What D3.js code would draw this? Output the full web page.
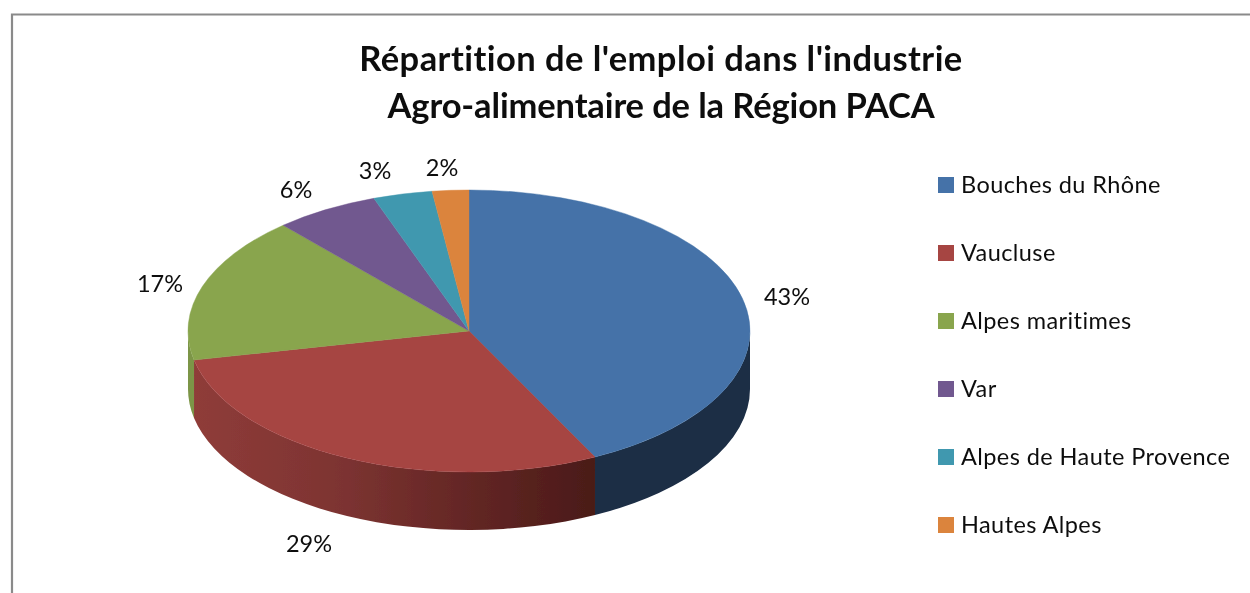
<!DOCTYPE html>
<html><head><meta charset="utf-8">
<script src="https://cdn.jsdelivr.net/npm/d3@7"></script>
<style>html,body{margin:0;padding:0;background:#fff;overflow:hidden}svg{display:block}text{font-family:Lato,"Open Sans",sans-serif;fill:#111;font-variant-ligatures:none}</style>
</head><body><svg id="c" width="1250" height="593"></svg>
<script>
const titleLines = ["Répartition de l'emploi dans l'industrie", "Agro-alimentaire de la Région PACA"];
const categories = ["Bouches du Rhône","Vaucluse","Alpes maritimes","Var","Alpes de Haute Provence","Hautes Alpes"];
const values = [42.6,29.1,16.8,6.0,3.4,2.1];
const percentLabels = ["43%","29%","17%","6%","3%","2%"];
const topColors = ["#4472a8","#a64442","#89a54e","#71588f","#4198af","#db843d"];

const labelAnchors = [[787,297],[309,544],[160,284],[296,190],[375,171],[442,168]];
const titleSpacing = [0.45,-0.13];
const cx=469, cy=331, rx=281, ry=141, depth=58;
const svg=d3.select("#c");
const defs=svg.append("defs");
defs.append("filter").attr("id","soft").append("feGaussianBlur").attr("stdDeviation",0.45);
defs.append("filter").attr("id","softText").append("feGaussianBlur").attr("stdDeviation",0.3);

// frame
svg.append("path").attr("d","M12,593V14.5H1250").attr("fill","none").attr("stroke","#8a8a8a").attr("stroke-width",2.2);

const rootG=svg.append("g").attr("filter","url(#soft)");
const pie=d3.pie().sort(null).value(d=>d).startAngle(0).endAngle(2*Math.PI);
const arcs=pie(values);
const px=a=>cx+rx*Math.sin(a), py=a=>cy-ry*Math.cos(a);

// side wall gradient
const gr=defs.append("linearGradient").attr("id","redWall").attr("gradientUnits","userSpaceOnUse")
  .attr("x1",cx-rx+5).attr("x2",px(arcs[0].endAngle)).attr("y1",0).attr("y2",0);
gr.append("stop").attr("offset",0).attr("stop-color","#8f3c39");
gr.append("stop").attr("offset",0.35).attr("stop-color","#7e3432");
gr.append("stop").attr("offset",1).attr("stop-color","#4a1a18");

const wallFill=["#1b2d45","url(#redWall)","#7c9546"];
arcs.forEach((d,i)=>{
  const a0=Math.max(d.startAngle,Math.PI/2), a1=Math.min(d.endAngle,3*Math.PI/2);
  if(a1<=a0) return;
  const p=`M${px(a0)},${py(a0)}A${rx},${ry} 0 0 1 ${px(a1)},${py(a1)}`+
    `L${px(a1)},${py(a1)+depth}A${rx},${ry} 0 0 0 ${px(a0)},${py(a0)+depth}Z`;
  rootG.append("path").attr("d",p).attr("fill",wallFill[i]||topColors[i]);
});

// top face
const arc=d3.arc().innerRadius(0).outerRadius(rx);
rootG.append("g").attr("transform",`translate(${cx},${cy}) scale(1,${ry/rx})`)
  .selectAll("path").data(arcs).join("path").attr("d",arc).attr("fill",(d,i)=>topColors[i])
  .attr("stroke",(d,i)=>topColors[i]).attr("stroke-width",0.6);

const textG=svg.append("g").attr("filter","url(#softText)");
// title
textG.append("g").selectAll("text").data(titleLines).join("text")
  .attr("x",661).attr("y",(d,i)=>71+i*46.5).attr("text-anchor","middle")
  .attr("font-size",34.5).attr("font-weight",700).attr("letter-spacing",(d,i)=>titleSpacing[i]).text(d=>d);

// pct labels
textG.append("g").selectAll("text").data(percentLabels).join("text")
  .attr("x",(d,i)=>labelAnchors[i][0]).attr("y",(d,i)=>labelAnchors[i][1]+8)
  .attr("text-anchor","middle").attr("font-size",23.5).attr("fill","#222").text(d=>d);

// legend
const ly=d3.scalePoint().domain(categories).range([185,525]);
const lg=textG.append("g").selectAll("g").data(categories).join("g").attr("transform",d=>`translate(938,${ly(d)})`);
lg.append("rect").attr("x",0).attr("y",-8).attr("width",16).attr("height",16).attr("fill",(d,i)=>topColors[i]);
lg.append("text").attr("x",23).attr("y",7.5).attr("font-size",23.5).attr("letter-spacing",0.42).attr("fill","#222").text(d=>d);
</script></body></html>
